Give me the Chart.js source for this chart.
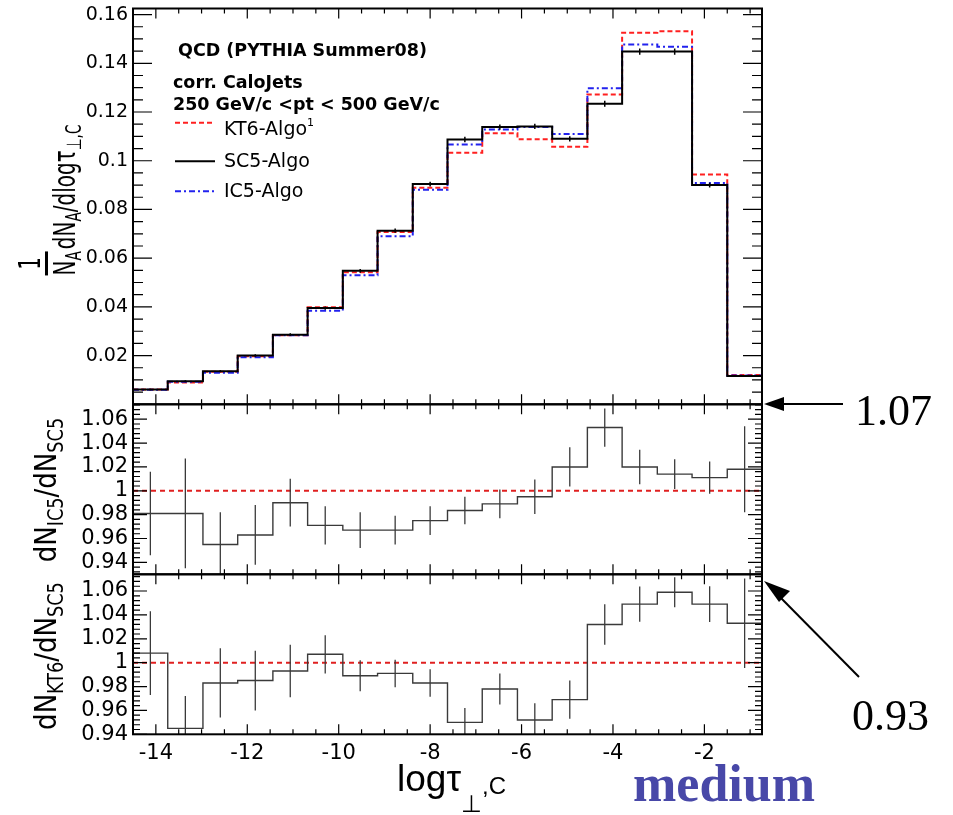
<!DOCTYPE html>
<html>
<head>
<meta charset="utf-8">
<script src="https://cdn.jsdelivr.net/npm/chart.js@4.4.1/dist/chart.umd.min.js"></script>
<style>
  html, body { margin: 0; padding: 0; background: #fff; }
  #wrap { position: relative; width: 953px; height: 815px; overflow: hidden; font-family: 'DejaVu Sans', sans-serif; color: #000; }
  #wrap canvas, #wrap svg { position: absolute; left: 0; top: 0; }
  .t { position: absolute; white-space: nowrap; line-height: 1; }
  .b { font-weight: bold; font-size: 17.5px; }
  .leg { font-size: 19px; }
  .rot { position: absolute; white-space: nowrap; line-height: 1; transform: translate(-50%, -50%) scale(1.15, 1) rotate(-90deg); }
  .rot.big { transform: translate(-50%, -50%) scale(1.5, 1) rotate(-90deg); }
  .rot sub { font-size: 0.68em; vertical-align: -0.3em; }
  .frac { display: inline-block; text-align: center; vertical-align: baseline; margin-right: 2px; }
  .den { display: inline-block; border-top: 2px solid #000; padding-top: 1px; }
  .serif { font-family: 'Liberation Serif', 'Times New Roman', serif; }
</style>
</head>
<body>
<div id="wrap">
  <canvas id="cTop" width="953" height="815"></canvas>
  <canvas id="cMid" width="953" height="815"></canvas>
  <canvas id="cBot" width="953" height="815"></canvas>
  <svg width="953" height="815">
    <!-- legend samples -->
    <line x1="175" y1="122.7" x2="215" y2="122.7" stroke="#ff2020" stroke-width="2" stroke-dasharray="5 3"/>
    <line x1="175" y1="161.3" x2="215" y2="161.3" stroke="#000" stroke-width="2"/>
    <line x1="175" y1="191.3" x2="215" y2="191.3" stroke="#2222ee" stroke-width="2" stroke-dasharray="6 3 2 3"/>
    <!-- annotation arrows -->
    <line x1="843" y1="404" x2="780" y2="404" stroke="#000" stroke-width="2"/>
    <polygon points="764,404 784,397 784,411" fill="#000"/>
    <line x1="859" y1="677" x2="778" y2="595" stroke="#000" stroke-width="2"/>
    <polygon points="764,581 790,591 779,602" fill="#000"/>
  </svg>

  <div class="t b" style="left:178px; top:41.5px;">QCD (PYTHIA Summer08)</div>
  <div class="t b" style="left:173px; top:74px;">corr. CaloJets</div>
  <div class="t b" style="left:173px; top:96px;">250 GeV/c &lt;pt &lt; 500 GeV/c</div>
  <div class="t leg" style="left:224px; top:116.6px;">KT6-Algo<span style="font-size:11px; vertical-align:9px;">1</span></div>
  <div class="t leg" style="left:224px; top:150.6px;">SC5-Algo</div>
  <div class="t leg" style="left:224px; top:181.2px;">IC5-Algo</div>

  <div class="rot big" style="left:50px; top:200px; font-size:20px;"><span class="frac">1<br><span class="den">N<sub>A</sub></span></span>dN<sub>A</sub>/dlogτ<sub>⊥,C</sub></div>
  <div class="rot" style="left:49px; top:490px; font-size:26px;">dN<sub>IC5</sub>/dN<sub>SC5</sub></div>
  <div class="rot" style="left:49px; top:656px; font-size:26px;">dN<sub>KT6</sub>/dN<sub>SC5</sub></div>

  <div class="t" style="left:397px; top:760.4px; font-family:'Liberation Sans', sans-serif; font-size:37px;">logτ<span style="font-size:24px; position:relative; top:21px;">⊥</span><span style="font-size:24px; position:relative; top:3px;">,C</span></div>

  <div class="t serif" style="left:633px; top:757.5px; font-size:52px; font-weight:bold; color:#4848a8;">medium</div>
  <div class="t serif" style="left:855px; top:389.2px; font-size:44px;">1.07</div>
  <div class="t serif" style="left:852px; top:694.2px; font-size:44px;">0.93</div>
</div>

<script>
// bin edges of log(tau_perp,C)
const binEdges = [-14.50, -13.74, -12.97, -12.21, -11.44, -10.68, -9.91, -9.15, -8.38, -7.62,
                  -6.86, -6.09, -5.33, -4.56, -3.80, -3.03, -2.27, -1.50, -0.74];

// normalised distributions (one value per bin)
const sc5 = [0.0061, 0.0095, 0.0136, 0.0200, 0.0286, 0.0395, 0.0548, 0.0713, 0.0904, 0.1087,
             0.1138, 0.1141, 0.1090, 0.1234, 0.1448, 0.1448, 0.0900, 0.0116];
const sc5Err = [0.0003, 0.0004, 0.0004, 0.0005, 0.0006, 0.0007, 0.0008, 0.0009, 0.0010, 0.0011,
                0.0011, 0.0011, 0.0011, 0.0012, 0.0013, 0.0013, 0.0010, 0.0004];
const kt6 = [0.0061, 0.0090, 0.0134, 0.0197, 0.0284, 0.0398, 0.0542, 0.0707, 0.0889, 0.1033,
             0.1113, 0.1088, 0.1057, 0.1272, 0.1525, 0.1532, 0.0943, 0.0120];
const ic5 = [0.0060, 0.0093, 0.0130, 0.0193, 0.0283, 0.0384, 0.0530, 0.0690, 0.0881, 0.1067,
             0.1128, 0.1138, 0.1110, 0.1298, 0.1477, 0.1468, 0.0909, 0.0118];

// ratios to SC5
const ratioIC5 = [0.981, 0.981, 0.955, 0.963, 0.990, 0.971, 0.967, 0.967, 0.975, 0.9835,
                  0.989, 0.995, 1.020, 1.053, 1.020, 1.014, 1.011, 1.018];
const ratioIC5Err = [0.035, 0.046, 0.027, 0.025, 0.020, 0.016, 0.015, 0.012, 0.012, 0.0115,
                     0.012, 0.0145, 0.0165, 0.016, 0.0145, 0.0125, 0.0135, 0.036];
const ratioKT6 = [1.008, 0.945, 0.983, 0.985, 0.993, 1.007, 0.989, 0.991, 0.983, 0.950,
                  0.978, 0.952, 0.969, 1.032, 1.049, 1.059, 1.049, 1.033];
const ratioKT6Err = [0.035, 0.027, 0.029, 0.025, 0.022, 0.016, 0.013, 0.0115, 0.0115, 0.012,
                     0.013, 0.014, 0.016, 0.017, 0.0147, 0.0126, 0.015, 0.0375];

const xMin = binEdges[0];
const xMax = binEdges[binEdges.length - 1];

Chart.defaults.font.family = "'DejaVu Sans', sans-serif";
Chart.defaults.color = '#000';

// histogram outline: a point on every left edge plus the last right edge
function stepPoints(vals) {
  const pts = vals.map((v, i) => ({ x: binEdges[i], y: v }));
  pts.push({ x: xMax, y: vals[vals.length - 1] });
  return pts;
}

function histDataset(label, vals, color, width, dash) {
  return {
    label: label,
    data: stepPoints(vals),
    borderColor: color,
    borderWidth: width,
    borderDash: dash || [],
    stepped: true,
    pointRadius: 0,
    fill: false
  };
}

// ROOT-like frame with inward ticks on all four sides
function framePlugin(t) {
  const tickVals = (min, max, step) => {
    const out = [];
    for (let k = Math.ceil(min / step - 1e-9); k * step <= max + 1e-9; k++) out.push(k * step);
    return out;
  };
  const isMajor = (v, step) => Math.abs(v / step - Math.round(v / step)) < 1e-6;
  return {
    id: 'frame',
    afterDatasetsDraw(chart) {
      const { ctx, chartArea: a, scales: { x, y } } = chart;
      ctx.save();
      ctx.strokeStyle = '#000';
      ctx.lineWidth = 1.2;
      ctx.beginPath();
      tickVals(x.min, x.max, t.xMinor).forEach(v => {
        const px = x.getPixelForValue(v);
        const len = isMajor(v, t.xMajor) ? t.xMajorLen : t.xMinorLen;
        ctx.moveTo(px, a.bottom); ctx.lineTo(px, a.bottom - len);
        ctx.moveTo(px, a.top); ctx.lineTo(px, a.top + len);
      });
      tickVals(y.min, y.max, t.yMinor).forEach(v => {
        const py = y.getPixelForValue(v);
        const len = isMajor(v, t.yMajor) ? t.yMajorLen : t.yMinorLen;
        ctx.moveTo(a.left, py); ctx.lineTo(a.left + len, py);
        ctx.moveTo(a.right, py); ctx.lineTo(a.right - len, py);
      });
      ctx.stroke();
      ctx.lineWidth = 2;
      ctx.strokeRect(a.left, a.top, a.right - a.left, a.bottom - a.top);
      ctx.restore();
    }
  };
}

function errorBarPlugin(vals, errs, color, width) {
  return {
    id: 'errorBars',
    afterDatasetsDraw(chart) {
      const { ctx, chartArea: a, scales: { x, y } } = chart;
      ctx.save();
      ctx.beginPath();
      ctx.rect(a.left, a.top, a.right - a.left, a.bottom - a.top);
      ctx.clip();
      ctx.strokeStyle = color;
      ctx.lineWidth = width;
      ctx.beginPath();
      vals.forEach((v, i) => {
        const px = x.getPixelForValue((binEdges[i] + binEdges[i + 1]) / 2);
        ctx.moveTo(px, y.getPixelForValue(v - errs[i]));
        ctx.lineTo(px, y.getPixelForValue(v + errs[i]));
      });
      ctx.stroke();
      ctx.restore();
    }
  };
}

function fmt(v) {
  if (Math.abs(v) < 1e-9) return '';
  return String(parseFloat(v.toFixed(3)));
}

function yScale(min, max, fontSize) {
  return {
    type: 'linear',
    min: min,
    max: max,
    grid: { display: false, drawTicks: false },
    border: { display: false },
    ticks: { stepSize: 0.02, includeBounds: false, autoSkip: false, padding: 5,
             font: { size: fontSize }, color: '#000', callback: fmt },
    afterFit(s) { s.width = 133; s.paddingTop = 0; s.paddingBottom = 0; }
  };
}

function baseOptions(padding, yOpts, showX) {
  return {
    responsive: false,
    animation: false,
    devicePixelRatio: 1,
    layout: { padding: padding },
    plugins: { legend: { display: false }, tooltip: { enabled: false } },
    scales: {
      x: {
        type: 'linear',
        display: showX,
        min: xMin,
        max: xMax,
        grid: { display: false, drawTicks: false },
        border: { display: false },
        ticks: { stepSize: 2, includeBounds: false, autoSkip: false, maxRotation: 0, padding: 7,
                 font: { size: 21 }, color: '#000', callback: fmt },
        afterFit(s) { s.height = showX ? 40 : 0; s.paddingLeft = 0; s.paddingRight = 0; }
      },
      y: yOpts
    }
  };
}

const refLine = [{ x: xMin, y: 1 }, { x: xMax, y: 1 }];

// top panel: distributions
new Chart(document.getElementById('cTop'), {
  type: 'line',
  data: {
    datasets: [
      histDataset('SC5-Algo', sc5, '#000', 2),
      histDataset('IC5-Algo', ic5, '#2222ee', 2, [6, 3, 2, 3]),
      histDataset('KT6-Algo', kt6, '#ff2020', 2, [5, 3])
    ]
  },
  options: baseOptions({ left: 0, right: 191, top: 8.5, bottom: 410.7 }, yScale(0, 0.1625, 19), false),
  plugins: [
    errorBarPlugin(sc5, sc5Err, '#000', 1.5),
    framePlugin({ xMajor: 2, xMinor: 0.5, xMajorLen: 10, xMinorLen: 5,
                  yMajor: 0.02, yMinor: 0.005, yMajorLen: 19, yMinorLen: 10 })
  ]
});

// middle panel: IC5 / SC5
new Chart(document.getElementById('cMid'), {
  type: 'line',
  data: {
    datasets: [
      histDataset('IC5/SC5', ratioIC5, '#3a3a3a', 1.4),
      { label: 'one', data: refLine, borderColor: '#e02020', borderWidth: 2, borderDash: [5, 4], pointRadius: 0 }
    ]
  },
  options: baseOptions({ left: 0, right: 191, top: 404.3, bottom: 240.7 }, yScale(0.93, 1.0725, 21), false),
  plugins: [
    errorBarPlugin(ratioIC5, ratioIC5Err, '#3a3a3a', 1.3),
    framePlugin({ xMajor: 2, xMinor: 0.5, xMajorLen: 10, xMinorLen: 5,
                  yMajor: 0.02, yMinor: 0.004, yMajorLen: 14, yMinorLen: 7 })
  ]
});

// bottom panel: KT6 / SC5
new Chart(document.getElementById('cBot'), {
  type: 'line',
  data: {
    datasets: [
      histDataset('KT6/SC5', ratioKT6, '#3a3a3a', 1.4),
      { label: 'one', data: refLine, borderColor: '#e02020', borderWidth: 2, borderDash: [5, 4], pointRadius: 0 }
    ]
  },
  options: baseOptions({ left: 0, right: 191, top: 574.3, bottom: 40.7 }, yScale(0.94, 1.074, 21), true),
  plugins: [
    errorBarPlugin(ratioKT6, ratioKT6Err, '#3a3a3a', 1.3),
    framePlugin({ xMajor: 2, xMinor: 0.5, xMajorLen: 10, xMinorLen: 5,
                  yMajor: 0.02, yMinor: 0.004, yMajorLen: 14, yMinorLen: 7 })
  ]
});
</script>
</body>
</html>
